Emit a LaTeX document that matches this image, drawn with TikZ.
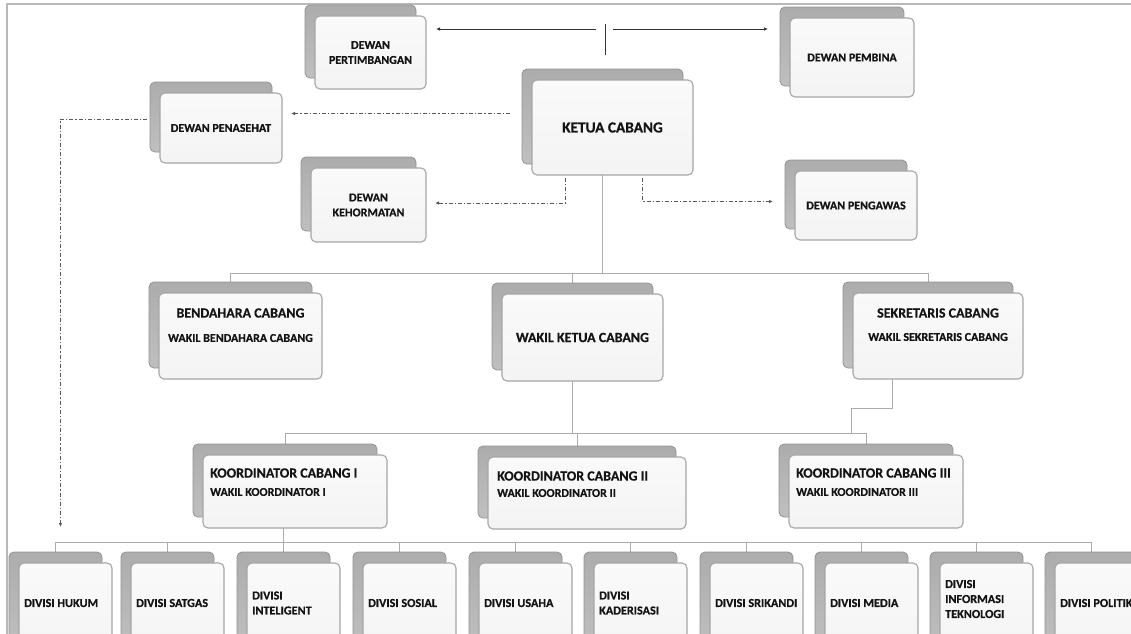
\documentclass[tikz,border=0pt]{standalone}
\usepackage{fontspec}
\setmainfont{Carlito}[BoldFeatures={FakeBold=0.6}]
\usetikzlibrary{arrows.meta,calc}
\pgfdeclarelayer{bg}
\pgfsetlayers{bg,main}
\newcommand\obox[5]{%
  \node[backbox, minimum width={(#4)-(#2)}, minimum height={(#5)-(#3)}] (#1-b) at ({#2-10},{#3-11}) {};
  \node[frontbox, minimum width={(#4)-(#2)}, minimum height={(#5)-(#3)}] (#1) at (#2,#3) {};}
\begin{document}
\begin{tikzpicture}[x=1pt,y=-1pt,
  backbox/.style={draw=gray!85, line width=0.8pt, rounded corners=5pt, top color=gray!65, bottom color=gray!50, anchor=north west, inner sep=0pt, outer sep=0pt},
  frontbox/.style={draw=gray!70, line width=1.1pt, rounded corners=5pt, top color=gray!4, bottom color=gray!9, anchor=north west, inner sep=0pt, outer sep=0pt},
  lbl/.style={text=black!92, inner sep=0pt, align=center},
  lft/.style={text=black!92, inner sep=0pt, align=left, anchor=west},
  fbig/.style={font=\bfseries\fontsize{15.3}{18}\selectfont},
  fmid/.style={font=\bfseries\fontsize{14}{16}\selectfont},
  fsma/.style={font=\bfseries\fontsize{12}{15}\selectfont},
  fdiv/.style={font=\bfseries\fontsize{12.2}{15}\selectfont},
  conn/.style={draw=gray!65, line width=0.9pt},
  dd/.style={draw=black!65, line width=0.9pt, dash pattern=on 4pt off 2pt on 1.2pt off 2pt, -{Latex[length=4pt,width=3.5pt]}},
  arr/.style={draw=black!80, line width=0.8pt, -{Latex[length=4pt,width=3.5pt]}}]
\useasboundingbox (0,0) rectangle (1131,633);
\clip (0,0) rectangle (1131,633);
\begin{pgfonlayer}{bg}
\fill[white] (0,0) rectangle (1131,633);
\end{pgfonlayer}
\draw[gray!55, line width=1.3pt] (7,640) -- (7,4) -- (1140,4);

% top level boxes
\obox{pert}{315}{16}{426}{89}
\obox{pemb}{790}{18}{914}{97}
\obox{penasehat}{160}{93}{282}{163}
\obox{ketua}{532}{80}{693}{175}
\obox{kehor}{311}{168}{426}{242}
\obox{peng}{795}{171}{917}{240}
\obox{bend}{159}{293}{322}{379}
\obox{wakil}{502}{294}{663}{381}
\obox{sek}{853}{293}{1023}{379}
\obox{koordA}{203}{455}{387}{528}
\obox{koordB}{488}{457}{686}{529}
\obox{koordC}{789}{455}{963}{528}

\node[lbl,fsma] (t-pert) at (pert) {DEWAN\\PERTIMBANGAN};
\node[lbl,fsma] (t-pemb) at (pemb) {DEWAN PEMBINA};
\node[lbl,fsma] (t-pena) at (penasehat) {DEWAN PENASEHAT};
\node[lbl,fbig] (t-ketua) at (ketua) {KETUA CABANG};
\node[lbl,fsma] (t-kehor) at (kehor) {DEWAN\\KEHORMATAN};
\node[lbl,fsma] (t-peng) at (peng) {DEWAN PENGAWAS};
\node[lbl,fmid] (t-bend1) at ($(bend.north)+(0,20)$) {BENDAHARA CABANG};
\node[lbl,fsma] (t-bend2) at ($(bend.north)+(0,45)$) {WAKIL BENDAHARA CABANG};
\node[lbl,fmid] (t-wakil) at (wakil) {WAKIL KETUA CABANG};
\node[lbl,fmid] (t-sek1) at ($(sek.north)+(0,20)$) {SEKRETARIS CABANG};
\node[lbl,fsma] (t-sek2) at ($(sek.north)+(0,44)$) {WAKIL SEKRETARIS CABANG};
\node[lft,fmid] (t-kA1) at ($(koordA.north west)+(7,18)$) {KOORDINATOR CABANG I};
\node[lft,fsma] (t-kA2) at ($(koordA.north west)+(7,37)$) {WAKIL KOORDINATOR I};
\node[lft,fmid] (t-kB1) at ($(koordB.north west)+(9,19)$) {KOORDINATOR CABANG II};
\node[lft,fsma] (t-kB2) at ($(koordB.north west)+(9,36)$) {WAKIL KOORDINATOR II};
\node[lft,fmid] (t-kC1) at ($(koordC.north west)+(7,18)$) {KOORDINATOR CABANG III};
\node[lft,fsma] (t-kC2) at ($(koordC.north west)+(7,37)$) {WAKIL KOORDINATOR III};

% divisions
\foreach \n/\c/\dy/\t in {hukum/55/40/{DIVISI HUKUM}, satgas/167/40/{DIVISI SATGAS}, intel/283/40/{DIVISI\\INTELIGENT}, sosial/399/40/{DIVISI SOSIAL}, usaha/515/40/{DIVISI USAHA}, kader/630/40/{DIVISI\\KADERISASI}, srikandi/746/40/{DIVISI SRIKANDI}, media/861/40/{DIVISI MEDIA}, infotek/976/36/{DIVISI\\INFORMASI\\TEKNOLOGI}, politik/1091/40/{DIVISI POLITIK}}{
  \obox{\n}{\c-36}{563}{\c+57}{660}
  \node[lft,fdiv] (t-\n) at ($(\n.north west)+(5,\dy)$) {\t};
}

\coordinate (bus1) at (0,273);
\coordinate (bus2) at (0,433);
\coordinate (bus3) at (0,542);
\coordinate (tj) at (605,29);

\begin{pgfonlayer}{bg}
  % solid hierarchy
  \draw[conn] (ketua-b.center) -- (ketua-b.center |- bus1);
  \draw[conn] (bend-b.north) -- (bend-b.center |- bus1) -- (sek-b.center |- bus1) -- (sek-b.north);
  \draw[conn] (wakil-b.north) -- (wakil-b.center |- bus1);
  \draw[conn] (wakil-b.center) -- (wakil-b.center |- bus2);
  \draw[conn] (koordA-b.north) -- (koordA-b.center |- bus2) -- (koordC-b.center |- bus2) -- (koordC-b.north);
  \draw[conn] (koordB-b.north) -- (koordB-b.center |- bus2);
  \draw[conn] ($(sek.south)+(-46,0)$) -- ++(0,29) -- ++(-41,0) -- ++(0,25);
  \draw[conn] ($(koordA-b.center)+(-2,0)$) -- ($(koordA-b.center |- bus3)+(-2,0)$);
  \draw[conn] (hukum-b.center |- bus3) -- (politik-b.center |- bus3);
  \foreach \n in {hukum,satgas,intel,sosial,usaha,kader,srikandi,media,infotek,politik}{
    \draw[conn] (\n-b.north) -- (\n-b.center |- bus3);
  }
\end{pgfonlayer}

% top arrows
\draw[black!80, line width=0.8pt] ($(tj)+(0,-5)$) -- ($(tj)+(0,26)$);
\draw[arr] ($(tj)+(-9,0)$) -- ($(pert.east |- tj)+(10,0)$);
\draw[arr] ($(tj)+(8,0)$) -- ($(pemb-b.west |- tj)+(-12,0)$);

% dash-dot links
\draw[dd] ($(ketua-b.west)+(-12,-3)$) -- ($(penasehat.east |- ketua-b.west)+(9,-3)$);
\draw[dd] ($(penasehat-b.west)+(-3,2)$) -| ($(hukum-b.north)+(5,-25)$);
\draw[dd] ($(ketua.south)+(-47,3)$) |- ($(kehor.east)+(9,-2)$);
\draw[dd] ($(ketua.south)+(30,3)$) |- ($(peng-b.west)+(-12,7)$);
\end{tikzpicture}
\end{document}
